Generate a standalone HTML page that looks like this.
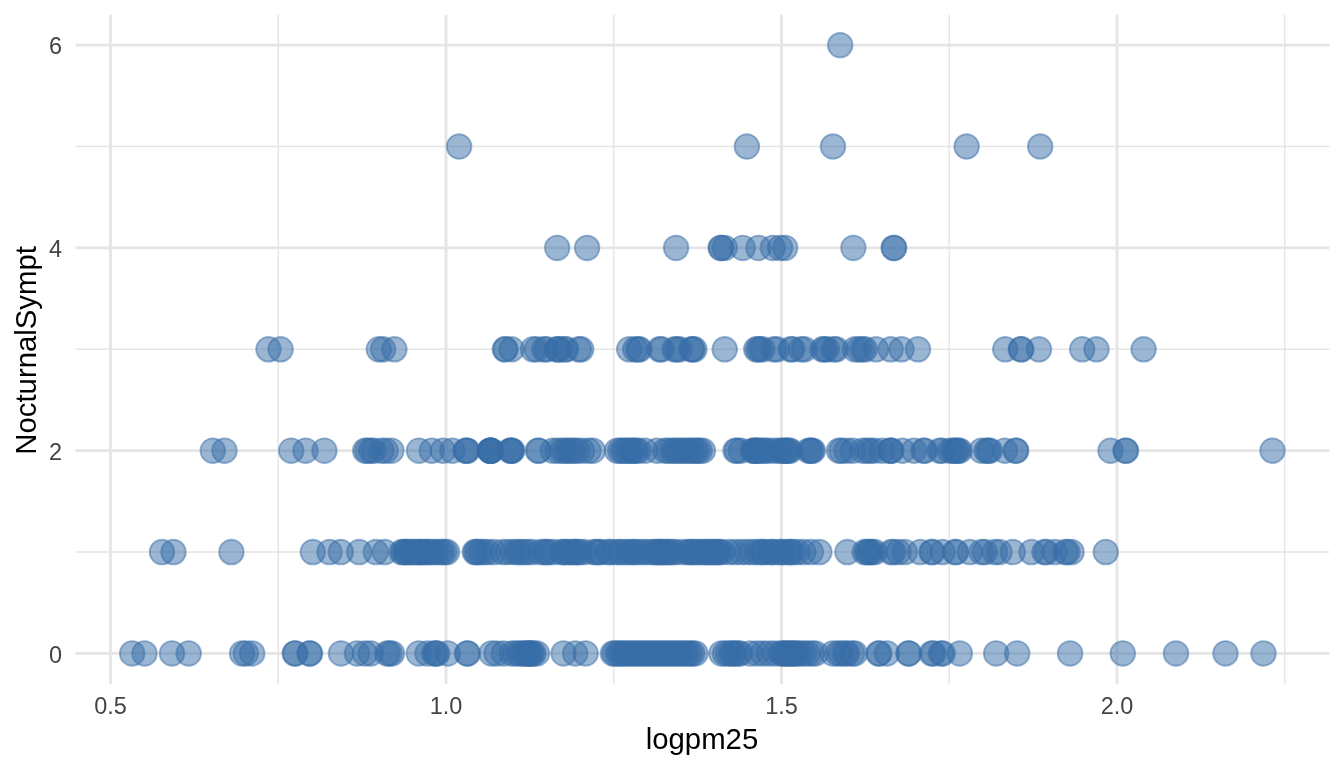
<!DOCTYPE html><html><head><meta charset="utf-8"><title>plot</title><style>html,body{margin:0;padding:0;background:#fff}svg{display:block}text{font-family:"Liberation Sans",sans-serif}</style></head><body>
<svg width="1344" height="768" viewBox="0 0 1344 768">
<rect width="1344" height="768" fill="#fff"/>
<g stroke="#E5E5E5" stroke-width="1.42" fill="none">
<line x1="278.25" x2="278.25" y1="14.7" y2="683.9"/>
<line x1="613.75" x2="613.75" y1="14.7" y2="683.9"/>
<line x1="949.25" x2="949.25" y1="14.7" y2="683.9"/>
<line x1="1284.75" x2="1284.75" y1="14.7" y2="683.9"/>
<line x1="75.5" x2="1329.3" y1="552.02" y2="552.02"/>
<line x1="75.5" x2="1329.3" y1="349.26" y2="349.26"/>
<line x1="75.5" x2="1329.3" y1="146.5" y2="146.5"/>
</g>
<g stroke="#E5E5E5" stroke-width="2.84" fill="none">
<line x1="110.5" x2="110.5" y1="14.7" y2="683.9"/>
<line x1="446" x2="446" y1="14.7" y2="683.9"/>
<line x1="781.5" x2="781.5" y1="14.7" y2="683.9"/>
<line x1="1117" x2="1117" y1="14.7" y2="683.9"/>
<line x1="75.5" x2="1329.3" y1="653.4" y2="653.4"/>
<line x1="75.5" x2="1329.3" y1="450.64" y2="450.64"/>
<line x1="75.5" x2="1329.3" y1="247.88" y2="247.88"/>
<line x1="75.5" x2="1329.3" y1="45.12" y2="45.12"/>
</g>
<g fill="#376EA8" fill-opacity="0.5" stroke="#376EA8" stroke-opacity="0.5" stroke-width="1.89">
<circle cx="132.2" cy="653.4" r="12.3"/>
<circle cx="144.5" cy="653.4" r="12.3"/>
<circle cx="172.0" cy="653.4" r="12.3"/>
<circle cx="188.7" cy="653.4" r="12.3"/>
<circle cx="242.1" cy="653.4" r="12.3"/>
<circle cx="245.9" cy="653.4" r="12.3"/>
<circle cx="252.2" cy="653.4" r="12.3"/>
<circle cx="294.8" cy="653.4" r="12.3"/>
<circle cx="295.3" cy="653.4" r="12.3"/>
<circle cx="309.5" cy="653.4" r="12.3"/>
<circle cx="310.0" cy="653.4" r="12.3"/>
<circle cx="341.0" cy="653.4" r="12.3"/>
<circle cx="357.0" cy="653.4" r="12.3"/>
<circle cx="364.9" cy="653.4" r="12.3"/>
<circle cx="370.8" cy="653.4" r="12.3"/>
<circle cx="387.0" cy="653.4" r="12.3"/>
<circle cx="389.5" cy="653.4" r="12.3"/>
<circle cx="392.0" cy="653.4" r="12.3"/>
<circle cx="418.8" cy="653.4" r="12.3"/>
<circle cx="427.5" cy="653.4" r="12.3"/>
<circle cx="434.2" cy="653.4" r="12.3"/>
<circle cx="436.0" cy="653.4" r="12.3"/>
<circle cx="437.2" cy="653.4" r="12.3"/>
<circle cx="447.8" cy="653.4" r="12.3"/>
<circle cx="467.0" cy="653.4" r="12.3"/>
<circle cx="467.8" cy="653.4" r="12.3"/>
<circle cx="491.5" cy="653.4" r="12.3"/>
<circle cx="496.6" cy="653.4" r="12.3"/>
<circle cx="503.8" cy="653.4" r="12.3"/>
<circle cx="511.8" cy="653.4" r="12.3"/>
<circle cx="515.5" cy="653.4" r="12.3"/>
<circle cx="519.5" cy="653.4" r="12.3"/>
<circle cx="522.0" cy="653.4" r="12.3"/>
<circle cx="524.5" cy="653.4" r="12.3"/>
<circle cx="526.5" cy="653.4" r="12.3"/>
<circle cx="528.0" cy="653.4" r="12.3"/>
<circle cx="529.5" cy="653.4" r="12.3"/>
<circle cx="530.2" cy="653.4" r="12.3"/>
<circle cx="532.0" cy="653.4" r="12.3"/>
<circle cx="533.5" cy="653.4" r="12.3"/>
<circle cx="536.9" cy="653.4" r="12.3"/>
<circle cx="563.6" cy="653.4" r="12.3"/>
<circle cx="575.2" cy="653.4" r="12.3"/>
<circle cx="585.6" cy="653.4" r="12.3"/>
<circle cx="612.9" cy="653.4" r="12.3"/>
<circle cx="614.8" cy="653.4" r="12.3"/>
<circle cx="617.9" cy="653.4" r="12.3"/>
<circle cx="620.0" cy="653.4" r="12.3"/>
<circle cx="622.6" cy="653.4" r="12.3"/>
<circle cx="625.2" cy="653.4" r="12.3"/>
<circle cx="627.8" cy="653.4" r="12.3"/>
<circle cx="630.4" cy="653.4" r="12.3"/>
<circle cx="633.0" cy="653.4" r="12.3"/>
<circle cx="635.6" cy="653.4" r="12.3"/>
<circle cx="638.2" cy="653.4" r="12.3"/>
<circle cx="640.8" cy="653.4" r="12.3"/>
<circle cx="643.4" cy="653.4" r="12.3"/>
<circle cx="646.0" cy="653.4" r="12.3"/>
<circle cx="648.6" cy="653.4" r="12.3"/>
<circle cx="651.2" cy="653.4" r="12.3"/>
<circle cx="653.8" cy="653.4" r="12.3"/>
<circle cx="656.4" cy="653.4" r="12.3"/>
<circle cx="659.0" cy="653.4" r="12.3"/>
<circle cx="661.6" cy="653.4" r="12.3"/>
<circle cx="664.2" cy="653.4" r="12.3"/>
<circle cx="666.8" cy="653.4" r="12.3"/>
<circle cx="669.4" cy="653.4" r="12.3"/>
<circle cx="672.0" cy="653.4" r="12.3"/>
<circle cx="674.6" cy="653.4" r="12.3"/>
<circle cx="677.2" cy="653.4" r="12.3"/>
<circle cx="679.8" cy="653.4" r="12.3"/>
<circle cx="682.4" cy="653.4" r="12.3"/>
<circle cx="685.0" cy="653.4" r="12.3"/>
<circle cx="687.6" cy="653.4" r="12.3"/>
<circle cx="690.2" cy="653.4" r="12.3"/>
<circle cx="692.3" cy="653.4" r="12.3"/>
<circle cx="695.4" cy="653.4" r="12.3"/>
<circle cx="721.4" cy="653.4" r="12.3"/>
<circle cx="725.1" cy="653.4" r="12.3"/>
<circle cx="728.2" cy="653.4" r="12.3"/>
<circle cx="731.4" cy="653.4" r="12.3"/>
<circle cx="733.0" cy="653.4" r="12.3"/>
<circle cx="735.0" cy="653.4" r="12.3"/>
<circle cx="738.1" cy="653.4" r="12.3"/>
<circle cx="740.0" cy="653.4" r="12.3"/>
<circle cx="750.0" cy="653.4" r="12.3"/>
<circle cx="757.0" cy="653.4" r="12.3"/>
<circle cx="763.0" cy="653.4" r="12.3"/>
<circle cx="769.0" cy="653.4" r="12.3"/>
<circle cx="775.0" cy="653.4" r="12.3"/>
<circle cx="781.0" cy="653.4" r="12.3"/>
<circle cx="783.0" cy="653.4" r="12.3"/>
<circle cx="785.0" cy="653.4" r="12.3"/>
<circle cx="787.0" cy="653.4" r="12.3"/>
<circle cx="789.0" cy="653.4" r="12.3"/>
<circle cx="791.0" cy="653.4" r="12.3"/>
<circle cx="793.0" cy="653.4" r="12.3"/>
<circle cx="795.0" cy="653.4" r="12.3"/>
<circle cx="797.0" cy="653.4" r="12.3"/>
<circle cx="800.0" cy="653.4" r="12.3"/>
<circle cx="803.8" cy="653.4" r="12.3"/>
<circle cx="807.5" cy="653.4" r="12.3"/>
<circle cx="811.9" cy="653.4" r="12.3"/>
<circle cx="815.5" cy="653.4" r="12.3"/>
<circle cx="832.8" cy="653.4" r="12.3"/>
<circle cx="837.8" cy="653.4" r="12.3"/>
<circle cx="841.0" cy="653.4" r="12.3"/>
<circle cx="845.2" cy="653.4" r="12.3"/>
<circle cx="847.2" cy="653.4" r="12.3"/>
<circle cx="852.2" cy="653.4" r="12.3"/>
<circle cx="854.8" cy="653.4" r="12.3"/>
<circle cx="878.5" cy="653.4" r="12.3"/>
<circle cx="879.3" cy="653.4" r="12.3"/>
<circle cx="887.0" cy="653.4" r="12.3"/>
<circle cx="908.5" cy="653.4" r="12.3"/>
<circle cx="908.9" cy="653.4" r="12.3"/>
<circle cx="931.6" cy="653.4" r="12.3"/>
<circle cx="933.5" cy="653.4" r="12.3"/>
<circle cx="941.0" cy="653.4" r="12.3"/>
<circle cx="942.8" cy="653.4" r="12.3"/>
<circle cx="959.8" cy="653.4" r="12.3"/>
<circle cx="996.2" cy="653.4" r="12.3"/>
<circle cx="1017.2" cy="653.4" r="12.3"/>
<circle cx="1070.1" cy="653.4" r="12.3"/>
<circle cx="1122.8" cy="653.4" r="12.3"/>
<circle cx="1176.0" cy="653.4" r="12.3"/>
<circle cx="1225.5" cy="653.4" r="12.3"/>
<circle cx="1263.5" cy="653.4" r="12.3"/>
<circle cx="162.0" cy="552.02" r="12.3"/>
<circle cx="173.5" cy="552.02" r="12.3"/>
<circle cx="231.4" cy="552.02" r="12.3"/>
<circle cx="312.8" cy="552.02" r="12.3"/>
<circle cx="329.5" cy="552.02" r="12.3"/>
<circle cx="340.8" cy="552.02" r="12.3"/>
<circle cx="359.2" cy="552.02" r="12.3"/>
<circle cx="375.8" cy="552.02" r="12.3"/>
<circle cx="384.8" cy="552.02" r="12.3"/>
<circle cx="401.6" cy="552.02" r="12.3"/>
<circle cx="403.5" cy="552.02" r="12.3"/>
<circle cx="405.4" cy="552.02" r="12.3"/>
<circle cx="407.0" cy="552.02" r="12.3"/>
<circle cx="408.7" cy="552.02" r="12.3"/>
<circle cx="411.5" cy="552.02" r="12.3"/>
<circle cx="413.6" cy="552.02" r="12.3"/>
<circle cx="416.6" cy="552.02" r="12.3"/>
<circle cx="419.6" cy="552.02" r="12.3"/>
<circle cx="420.7" cy="552.02" r="12.3"/>
<circle cx="421.7" cy="552.02" r="12.3"/>
<circle cx="425.4" cy="552.02" r="12.3"/>
<circle cx="427.2" cy="552.02" r="12.3"/>
<circle cx="428.9" cy="552.02" r="12.3"/>
<circle cx="433.2" cy="552.02" r="12.3"/>
<circle cx="435.7" cy="552.02" r="12.3"/>
<circle cx="439.6" cy="552.02" r="12.3"/>
<circle cx="442.1" cy="552.02" r="12.3"/>
<circle cx="444.6" cy="552.02" r="12.3"/>
<circle cx="447.1" cy="552.02" r="12.3"/>
<circle cx="474.8" cy="552.02" r="12.3"/>
<circle cx="476.0" cy="552.02" r="12.3"/>
<circle cx="477.9" cy="552.02" r="12.3"/>
<circle cx="480.9" cy="552.02" r="12.3"/>
<circle cx="484.0" cy="552.02" r="12.3"/>
<circle cx="488.0" cy="552.02" r="12.3"/>
<circle cx="494.0" cy="552.02" r="12.3"/>
<circle cx="503.0" cy="552.02" r="12.3"/>
<circle cx="507.9" cy="552.02" r="12.3"/>
<circle cx="512.9" cy="552.02" r="12.3"/>
<circle cx="517.2" cy="552.02" r="12.3"/>
<circle cx="520.0" cy="552.02" r="12.3"/>
<circle cx="523.5" cy="552.02" r="12.3"/>
<circle cx="527.4" cy="552.02" r="12.3"/>
<circle cx="531.6" cy="552.02" r="12.3"/>
<circle cx="540.2" cy="552.02" r="12.3"/>
<circle cx="544.9" cy="552.02" r="12.3"/>
<circle cx="546.0" cy="552.02" r="12.3"/>
<circle cx="548.9" cy="552.02" r="12.3"/>
<circle cx="553.6" cy="552.02" r="12.3"/>
<circle cx="561.8" cy="552.02" r="12.3"/>
<circle cx="563.3" cy="552.02" r="12.3"/>
<circle cx="566.2" cy="552.02" r="12.3"/>
<circle cx="568.2" cy="552.02" r="12.3"/>
<circle cx="571.3" cy="552.02" r="12.3"/>
<circle cx="574.6" cy="552.02" r="12.3"/>
<circle cx="575.7" cy="552.02" r="12.3"/>
<circle cx="577.6" cy="552.02" r="12.3"/>
<circle cx="579.8" cy="552.02" r="12.3"/>
<circle cx="584.4" cy="552.02" r="12.3"/>
<circle cx="594.2" cy="552.02" r="12.3"/>
<circle cx="595.8" cy="552.02" r="12.3"/>
<circle cx="599.3" cy="552.02" r="12.3"/>
<circle cx="600.9" cy="552.02" r="12.3"/>
<circle cx="608.2" cy="552.02" r="12.3"/>
<circle cx="610.1" cy="552.02" r="12.3"/>
<circle cx="615.0" cy="552.02" r="12.3"/>
<circle cx="619.4" cy="552.02" r="12.3"/>
<circle cx="621.6" cy="552.02" r="12.3"/>
<circle cx="626.4" cy="552.02" r="12.3"/>
<circle cx="629.6" cy="552.02" r="12.3"/>
<circle cx="633.3" cy="552.02" r="12.3"/>
<circle cx="635.1" cy="552.02" r="12.3"/>
<circle cx="639.8" cy="552.02" r="12.3"/>
<circle cx="643.6" cy="552.02" r="12.3"/>
<circle cx="648.4" cy="552.02" r="12.3"/>
<circle cx="652.9" cy="552.02" r="12.3"/>
<circle cx="655.1" cy="552.02" r="12.3"/>
<circle cx="657.6" cy="552.02" r="12.3"/>
<circle cx="659.3" cy="552.02" r="12.3"/>
<circle cx="660.9" cy="552.02" r="12.3"/>
<circle cx="662.2" cy="552.02" r="12.3"/>
<circle cx="664.5" cy="552.02" r="12.3"/>
<circle cx="667.9" cy="552.02" r="12.3"/>
<circle cx="668.9" cy="552.02" r="12.3"/>
<circle cx="672.6" cy="552.02" r="12.3"/>
<circle cx="675.0" cy="552.02" r="12.3"/>
<circle cx="682.0" cy="552.02" r="12.3"/>
<circle cx="688.0" cy="552.02" r="12.3"/>
<circle cx="690.0" cy="552.02" r="12.3"/>
<circle cx="692.6" cy="552.02" r="12.3"/>
<circle cx="694.5" cy="552.02" r="12.3"/>
<circle cx="698.5" cy="552.02" r="12.3"/>
<circle cx="700.1" cy="552.02" r="12.3"/>
<circle cx="703.6" cy="552.02" r="12.3"/>
<circle cx="706.4" cy="552.02" r="12.3"/>
<circle cx="707.9" cy="552.02" r="12.3"/>
<circle cx="711.3" cy="552.02" r="12.3"/>
<circle cx="712.7" cy="552.02" r="12.3"/>
<circle cx="715.8" cy="552.02" r="12.3"/>
<circle cx="717.3" cy="552.02" r="12.3"/>
<circle cx="718.9" cy="552.02" r="12.3"/>
<circle cx="721.9" cy="552.02" r="12.3"/>
<circle cx="729.0" cy="552.02" r="12.3"/>
<circle cx="735.0" cy="552.02" r="12.3"/>
<circle cx="741.0" cy="552.02" r="12.3"/>
<circle cx="747.0" cy="552.02" r="12.3"/>
<circle cx="752.0" cy="552.02" r="12.3"/>
<circle cx="757.0" cy="552.02" r="12.3"/>
<circle cx="760.2" cy="552.02" r="12.3"/>
<circle cx="763.1" cy="552.02" r="12.3"/>
<circle cx="764.9" cy="552.02" r="12.3"/>
<circle cx="769.9" cy="552.02" r="12.3"/>
<circle cx="771.1" cy="552.02" r="12.3"/>
<circle cx="774.5" cy="552.02" r="12.3"/>
<circle cx="779.7" cy="552.02" r="12.3"/>
<circle cx="781.2" cy="552.02" r="12.3"/>
<circle cx="784.9" cy="552.02" r="12.3"/>
<circle cx="788.8" cy="552.02" r="12.3"/>
<circle cx="790.2" cy="552.02" r="12.3"/>
<circle cx="793.0" cy="552.02" r="12.3"/>
<circle cx="797.3" cy="552.02" r="12.3"/>
<circle cx="803.4" cy="552.02" r="12.3"/>
<circle cx="810.9" cy="552.02" r="12.3"/>
<circle cx="819.4" cy="552.02" r="12.3"/>
<circle cx="847.4" cy="552.02" r="12.3"/>
<circle cx="864.6" cy="552.02" r="12.3"/>
<circle cx="867.0" cy="552.02" r="12.3"/>
<circle cx="868.5" cy="552.02" r="12.3"/>
<circle cx="870.0" cy="552.02" r="12.3"/>
<circle cx="872.0" cy="552.02" r="12.3"/>
<circle cx="874.8" cy="552.02" r="12.3"/>
<circle cx="891.0" cy="552.02" r="12.3"/>
<circle cx="893.5" cy="552.02" r="12.3"/>
<circle cx="898.5" cy="552.02" r="12.3"/>
<circle cx="904.8" cy="552.02" r="12.3"/>
<circle cx="920.2" cy="552.02" r="12.3"/>
<circle cx="931.4" cy="552.02" r="12.3"/>
<circle cx="932.5" cy="552.02" r="12.3"/>
<circle cx="942.5" cy="552.02" r="12.3"/>
<circle cx="955.0" cy="552.02" r="12.3"/>
<circle cx="956.2" cy="552.02" r="12.3"/>
<circle cx="969.9" cy="552.02" r="12.3"/>
<circle cx="981.6" cy="552.02" r="12.3"/>
<circle cx="984.9" cy="552.02" r="12.3"/>
<circle cx="994.9" cy="552.02" r="12.3"/>
<circle cx="999.5" cy="552.02" r="12.3"/>
<circle cx="1012.8" cy="552.02" r="12.3"/>
<circle cx="1031.5" cy="552.02" r="12.3"/>
<circle cx="1044.4" cy="552.02" r="12.3"/>
<circle cx="1046.5" cy="552.02" r="12.3"/>
<circle cx="1054.9" cy="552.02" r="12.3"/>
<circle cx="1065.4" cy="552.02" r="12.3"/>
<circle cx="1067.5" cy="552.02" r="12.3"/>
<circle cx="1071.6" cy="552.02" r="12.3"/>
<circle cx="1105.8" cy="552.02" r="12.3"/>
<circle cx="212.8" cy="450.64" r="12.3"/>
<circle cx="224.5" cy="450.64" r="12.3"/>
<circle cx="291.2" cy="450.64" r="12.3"/>
<circle cx="305.5" cy="450.64" r="12.3"/>
<circle cx="324.4" cy="450.64" r="12.3"/>
<circle cx="365.2" cy="450.64" r="12.3"/>
<circle cx="367.4" cy="450.64" r="12.3"/>
<circle cx="371.1" cy="450.64" r="12.3"/>
<circle cx="373.6" cy="450.64" r="12.3"/>
<circle cx="381.5" cy="450.64" r="12.3"/>
<circle cx="385.7" cy="450.64" r="12.3"/>
<circle cx="391.4" cy="450.64" r="12.3"/>
<circle cx="419.0" cy="450.64" r="12.3"/>
<circle cx="431.8" cy="450.64" r="12.3"/>
<circle cx="443.0" cy="450.64" r="12.3"/>
<circle cx="452.4" cy="450.64" r="12.3"/>
<circle cx="465.5" cy="450.64" r="12.3"/>
<circle cx="466.5" cy="450.64" r="12.3"/>
<circle cx="467.5" cy="450.64" r="12.3"/>
<circle cx="489.8" cy="450.64" r="12.3"/>
<circle cx="490.1" cy="450.64" r="12.3"/>
<circle cx="490.4" cy="450.64" r="12.3"/>
<circle cx="490.7" cy="450.64" r="12.3"/>
<circle cx="491.0" cy="450.64" r="12.3"/>
<circle cx="491.3" cy="450.64" r="12.3"/>
<circle cx="510.0" cy="450.64" r="12.3"/>
<circle cx="510.8" cy="450.64" r="12.3"/>
<circle cx="511.5" cy="450.64" r="12.3"/>
<circle cx="512.3" cy="450.64" r="12.3"/>
<circle cx="537.8" cy="450.64" r="12.3"/>
<circle cx="539.0" cy="450.64" r="12.3"/>
<circle cx="552.8" cy="450.64" r="12.3"/>
<circle cx="557.8" cy="450.64" r="12.3"/>
<circle cx="562.1" cy="450.64" r="12.3"/>
<circle cx="565.2" cy="450.64" r="12.3"/>
<circle cx="568.0" cy="450.64" r="12.3"/>
<circle cx="571.0" cy="450.64" r="12.3"/>
<circle cx="574.0" cy="450.64" r="12.3"/>
<circle cx="577.2" cy="450.64" r="12.3"/>
<circle cx="582.0" cy="450.64" r="12.3"/>
<circle cx="588.5" cy="450.64" r="12.3"/>
<circle cx="592.9" cy="450.64" r="12.3"/>
<circle cx="617.1" cy="450.64" r="12.3"/>
<circle cx="620.2" cy="450.64" r="12.3"/>
<circle cx="622.8" cy="450.64" r="12.3"/>
<circle cx="625.0" cy="450.64" r="12.3"/>
<circle cx="627.8" cy="450.64" r="12.3"/>
<circle cx="630.0" cy="450.64" r="12.3"/>
<circle cx="632.0" cy="450.64" r="12.3"/>
<circle cx="634.0" cy="450.64" r="12.3"/>
<circle cx="636.0" cy="450.64" r="12.3"/>
<circle cx="638.5" cy="450.64" r="12.3"/>
<circle cx="645.0" cy="450.64" r="12.3"/>
<circle cx="657.0" cy="450.64" r="12.3"/>
<circle cx="665.2" cy="450.64" r="12.3"/>
<circle cx="668.4" cy="450.64" r="12.3"/>
<circle cx="672.8" cy="450.64" r="12.3"/>
<circle cx="675.2" cy="450.64" r="12.3"/>
<circle cx="678.0" cy="450.64" r="12.3"/>
<circle cx="681.0" cy="450.64" r="12.3"/>
<circle cx="684.0" cy="450.64" r="12.3"/>
<circle cx="687.0" cy="450.64" r="12.3"/>
<circle cx="690.0" cy="450.64" r="12.3"/>
<circle cx="692.5" cy="450.64" r="12.3"/>
<circle cx="695.0" cy="450.64" r="12.3"/>
<circle cx="697.2" cy="450.64" r="12.3"/>
<circle cx="699.8" cy="450.64" r="12.3"/>
<circle cx="702.9" cy="450.64" r="12.3"/>
<circle cx="735.5" cy="450.64" r="12.3"/>
<circle cx="737.1" cy="450.64" r="12.3"/>
<circle cx="740.9" cy="450.64" r="12.3"/>
<circle cx="752.8" cy="450.64" r="12.3"/>
<circle cx="754.0" cy="450.64" r="12.3"/>
<circle cx="755.0" cy="450.64" r="12.3"/>
<circle cx="756.5" cy="450.64" r="12.3"/>
<circle cx="757.8" cy="450.64" r="12.3"/>
<circle cx="760.0" cy="450.64" r="12.3"/>
<circle cx="762.2" cy="450.64" r="12.3"/>
<circle cx="765.2" cy="450.64" r="12.3"/>
<circle cx="767.8" cy="450.64" r="12.3"/>
<circle cx="774.0" cy="450.64" r="12.3"/>
<circle cx="779.0" cy="450.64" r="12.3"/>
<circle cx="782.2" cy="450.64" r="12.3"/>
<circle cx="784.0" cy="450.64" r="12.3"/>
<circle cx="785.4" cy="450.64" r="12.3"/>
<circle cx="787.0" cy="450.64" r="12.3"/>
<circle cx="788.5" cy="450.64" r="12.3"/>
<circle cx="790.2" cy="450.64" r="12.3"/>
<circle cx="808.5" cy="450.64" r="12.3"/>
<circle cx="810.4" cy="450.64" r="12.3"/>
<circle cx="811.5" cy="450.64" r="12.3"/>
<circle cx="812.9" cy="450.64" r="12.3"/>
<circle cx="839.0" cy="450.64" r="12.3"/>
<circle cx="841.5" cy="450.64" r="12.3"/>
<circle cx="846.5" cy="450.64" r="12.3"/>
<circle cx="852.8" cy="450.64" r="12.3"/>
<circle cx="862.8" cy="450.64" r="12.3"/>
<circle cx="867.1" cy="450.64" r="12.3"/>
<circle cx="870.2" cy="450.64" r="12.3"/>
<circle cx="874.0" cy="450.64" r="12.3"/>
<circle cx="882.1" cy="450.64" r="12.3"/>
<circle cx="890.3" cy="450.64" r="12.3"/>
<circle cx="890.8" cy="450.64" r="12.3"/>
<circle cx="891.3" cy="450.64" r="12.3"/>
<circle cx="902.5" cy="450.64" r="12.3"/>
<circle cx="914.0" cy="450.64" r="12.3"/>
<circle cx="923.5" cy="450.64" r="12.3"/>
<circle cx="925.0" cy="450.64" r="12.3"/>
<circle cx="939.6" cy="450.64" r="12.3"/>
<circle cx="942.1" cy="450.64" r="12.3"/>
<circle cx="950.0" cy="450.64" r="12.3"/>
<circle cx="953.0" cy="450.64" r="12.3"/>
<circle cx="955.0" cy="450.64" r="12.3"/>
<circle cx="956.5" cy="450.64" r="12.3"/>
<circle cx="958.0" cy="450.64" r="12.3"/>
<circle cx="959.8" cy="450.64" r="12.3"/>
<circle cx="981.5" cy="450.64" r="12.3"/>
<circle cx="986.5" cy="450.64" r="12.3"/>
<circle cx="988.4" cy="450.64" r="12.3"/>
<circle cx="990.0" cy="450.64" r="12.3"/>
<circle cx="1004.9" cy="450.64" r="12.3"/>
<circle cx="1015.7" cy="450.64" r="12.3"/>
<circle cx="1016.2" cy="450.64" r="12.3"/>
<circle cx="1110.5" cy="450.64" r="12.3"/>
<circle cx="1125.5" cy="450.64" r="12.3"/>
<circle cx="1126.0" cy="450.64" r="12.3"/>
<circle cx="1272.5" cy="450.64" r="12.3"/>
<circle cx="268.5" cy="349.26" r="12.3"/>
<circle cx="280.6" cy="349.26" r="12.3"/>
<circle cx="378.8" cy="349.26" r="12.3"/>
<circle cx="383.1" cy="349.26" r="12.3"/>
<circle cx="394.4" cy="349.26" r="12.3"/>
<circle cx="504.9" cy="349.26" r="12.3"/>
<circle cx="505.6" cy="349.26" r="12.3"/>
<circle cx="511.5" cy="349.26" r="12.3"/>
<circle cx="533.0" cy="349.26" r="12.3"/>
<circle cx="536.8" cy="349.26" r="12.3"/>
<circle cx="544.2" cy="349.26" r="12.3"/>
<circle cx="546.5" cy="349.26" r="12.3"/>
<circle cx="556.8" cy="349.26" r="12.3"/>
<circle cx="558.0" cy="349.26" r="12.3"/>
<circle cx="559.5" cy="349.26" r="12.3"/>
<circle cx="564.9" cy="349.26" r="12.3"/>
<circle cx="566.0" cy="349.26" r="12.3"/>
<circle cx="578.8" cy="349.26" r="12.3"/>
<circle cx="581.2" cy="349.26" r="12.3"/>
<circle cx="629.2" cy="349.26" r="12.3"/>
<circle cx="635.2" cy="349.26" r="12.3"/>
<circle cx="638.0" cy="349.26" r="12.3"/>
<circle cx="639.6" cy="349.26" r="12.3"/>
<circle cx="659.6" cy="349.26" r="12.3"/>
<circle cx="661.5" cy="349.26" r="12.3"/>
<circle cx="674.6" cy="349.26" r="12.3"/>
<circle cx="676.7" cy="349.26" r="12.3"/>
<circle cx="679.6" cy="349.26" r="12.3"/>
<circle cx="691.5" cy="349.26" r="12.3"/>
<circle cx="692.5" cy="349.26" r="12.3"/>
<circle cx="694.4" cy="349.26" r="12.3"/>
<circle cx="724.7" cy="349.26" r="12.3"/>
<circle cx="756.2" cy="349.26" r="12.3"/>
<circle cx="758.1" cy="349.26" r="12.3"/>
<circle cx="760.0" cy="349.26" r="12.3"/>
<circle cx="762.5" cy="349.26" r="12.3"/>
<circle cx="773.8" cy="349.26" r="12.3"/>
<circle cx="776.9" cy="349.26" r="12.3"/>
<circle cx="790.6" cy="349.26" r="12.3"/>
<circle cx="792.5" cy="349.26" r="12.3"/>
<circle cx="801.2" cy="349.26" r="12.3"/>
<circle cx="804.4" cy="349.26" r="12.3"/>
<circle cx="822.5" cy="349.26" r="12.3"/>
<circle cx="824.4" cy="349.26" r="12.3"/>
<circle cx="826.9" cy="349.26" r="12.3"/>
<circle cx="833.8" cy="349.26" r="12.3"/>
<circle cx="836.2" cy="349.26" r="12.3"/>
<circle cx="855.0" cy="349.26" r="12.3"/>
<circle cx="858.8" cy="349.26" r="12.3"/>
<circle cx="862.5" cy="349.26" r="12.3"/>
<circle cx="865.0" cy="349.26" r="12.3"/>
<circle cx="876.0" cy="349.26" r="12.3"/>
<circle cx="890.7" cy="349.26" r="12.3"/>
<circle cx="901.5" cy="349.26" r="12.3"/>
<circle cx="918.0" cy="349.26" r="12.3"/>
<circle cx="1005.2" cy="349.26" r="12.3"/>
<circle cx="1020.8" cy="349.26" r="12.3"/>
<circle cx="1021.3" cy="349.26" r="12.3"/>
<circle cx="1039.0" cy="349.26" r="12.3"/>
<circle cx="1082.2" cy="349.26" r="12.3"/>
<circle cx="1096.5" cy="349.26" r="12.3"/>
<circle cx="1143.6" cy="349.26" r="12.3"/>
<circle cx="557.2" cy="247.88" r="12.3"/>
<circle cx="587.1" cy="247.88" r="12.3"/>
<circle cx="676.1" cy="247.88" r="12.3"/>
<circle cx="720.6" cy="247.88" r="12.3"/>
<circle cx="721.2" cy="247.88" r="12.3"/>
<circle cx="724.8" cy="247.88" r="12.3"/>
<circle cx="742.8" cy="247.88" r="12.3"/>
<circle cx="758.4" cy="247.88" r="12.3"/>
<circle cx="772.8" cy="247.88" r="12.3"/>
<circle cx="780.2" cy="247.88" r="12.3"/>
<circle cx="785.2" cy="247.88" r="12.3"/>
<circle cx="853.4" cy="247.88" r="12.3"/>
<circle cx="893.6" cy="247.88" r="12.3"/>
<circle cx="894.2" cy="247.88" r="12.3"/>
<circle cx="459.1" cy="146.5" r="12.3"/>
<circle cx="746.9" cy="146.5" r="12.3"/>
<circle cx="833.0" cy="146.5" r="12.3"/>
<circle cx="966.6" cy="146.5" r="12.3"/>
<circle cx="1040.2" cy="146.5" r="12.3"/>
<circle cx="840.2" cy="45.12" r="12.3"/>
</g>
<g fill="#444444" font-size="23.47px">
<text x="62" y="662.6" text-anchor="end">0</text>
<text x="62" y="459.8" text-anchor="end">2</text>
<text x="62" y="257.1" text-anchor="end">4</text>
<text x="62" y="54.3" text-anchor="end">6</text>
<text x="110.5" y="713.5" text-anchor="middle">0.5</text>
<text x="446" y="713.5" text-anchor="middle">1.0</text>
<text x="781.5" y="713.5" text-anchor="middle">1.5</text>
<text x="1117" y="713.5" text-anchor="middle">2.0</text>
</g>
<g fill="#000" font-size="29.33px">
<text x="702" y="748.6" text-anchor="middle">logpm25</text>
<text transform="translate(35.7,350.4) rotate(-90)" text-anchor="middle">NocturnalSympt</text>
</g>
</svg></body></html>
